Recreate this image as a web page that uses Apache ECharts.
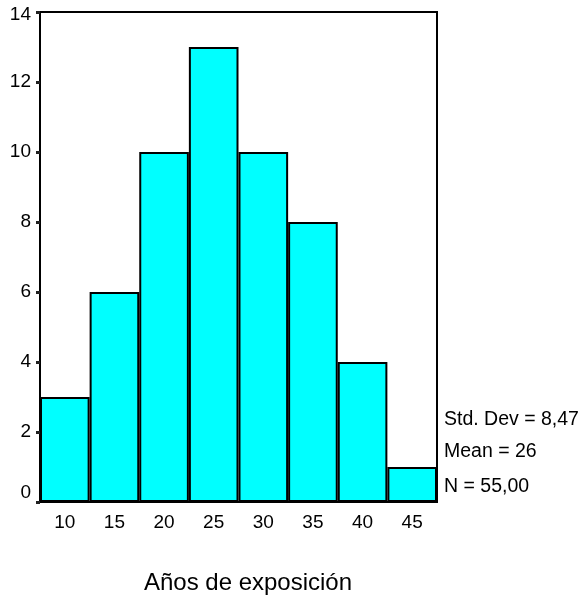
<!DOCTYPE html>
<html>
<head>
<meta charset="utf-8">
<script src="https://cdn.jsdelivr.net/npm/echarts@6/dist/echarts.min.js"></script>
<style>
  html, body { margin: 0; padding: 0; background: #fff; }
  #main { width: 585px; height: 603px; }
</style>
</head>
<body>
<div id="main"></div>
<script>
  // histogram bins (midpoints) and counts
  const binLabels = ['10', '15', '20', '25', '30', '35', '40', '45'];
  const counts = [3, 6, 10, 13, 10, 8, 4, 1];
  const statLines = ['Std. Dev = 8,47', 'Mean = 26', 'N = 55,00'];
  const xTitle = 'Años de exposición';

  const font = '"Liberation Sans", Arial, sans-serif';
  let myChart = echarts.init(document.getElementById('main'));

  let option = {
    backgroundColor: '#fff',
    animation: false,
    grid: {
      left: 40, right: 148, top: 12, bottom: 101,
      show: true, borderColor: '#000', borderWidth: 2
    },
    xAxis: {
      type: 'category',
      data: binLabels,
      boundaryGap: true,
      axisLine: { lineStyle: { color: '#000', width: 2 } },
      axisTick: { alignWithLabel: true, length: 4, lineStyle: { color: '#222', width: 3 } },
      axisLabel: { color: '#000', fontSize: 19, fontFamily: font, margin: 11 }
    },
    yAxis: {
      type: 'value',
      min: 0, max: 14, interval: 2,
      splitLine: { show: false },
      axisLine: { show: true, lineStyle: { color: '#000', width: 2 } },
      axisTick: { show: true, length: 4, lineStyle: { color: '#222', width: 3 } },
      axisLabel: {
        color: '#000', fontSize: 19, fontFamily: font, margin: 9,
        formatter: function (v) {
          if (v === 0) return '{lo|0}';
          if (v === 14) return '{hi|14}';
          return String(v);
        },
        rich: {
          lo: { fontSize: 19, fontFamily: font, color: '#000', padding: [0, 0, 18, 0] },
          hi: { fontSize: 19, fontFamily: font, color: '#000', padding: [6, 0, 0, 0] }
        }
      }
    },
    series: [{
      type: 'bar',
      data: counts,
      barWidth: '100%',
      itemStyle: { color: '#00FFFF', borderColor: '#000', borderWidth: 2 }
    }],
    graphic: statLines.map(function (t, i) {
      return {
        type: 'text', x: 444, y: [420, 452, 487][i],
        style: { text: t, fill: '#000', font: '19.5px ' + font, verticalAlign: 'middle' }
      };
    }).concat([{
      type: 'text', x: 248, y: 583,
      style: { text: xTitle, fill: '#000', font: '24px ' + font, align: 'center', verticalAlign: 'middle' }
    }])
  };

  myChart.setOption(option);
</script>
</body>
</html>
